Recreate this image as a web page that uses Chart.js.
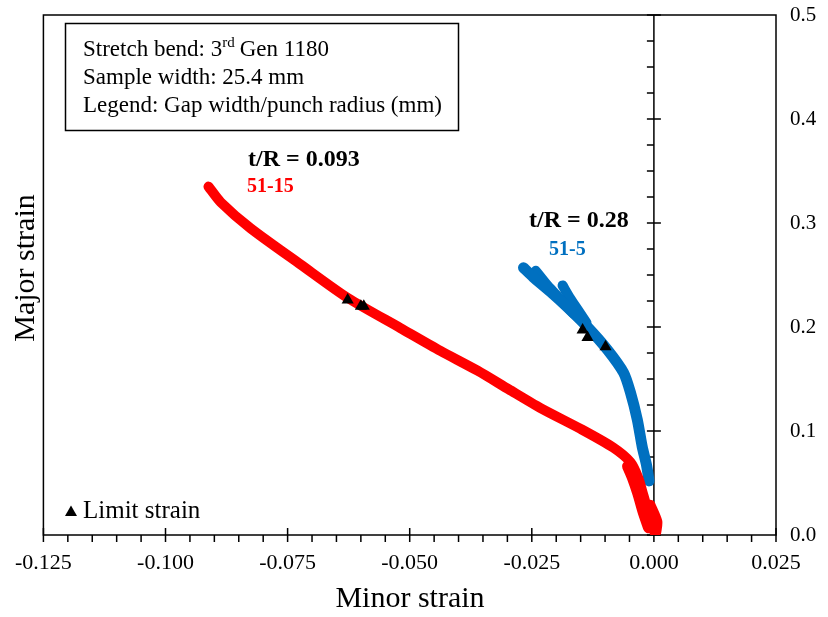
<!DOCTYPE html>
<html>
<head>
<meta charset="utf-8">
<script src="https://cdn.jsdelivr.net/npm/chart.js@4.4.1/dist/chart.umd.min.js"></script>
<style>
  html, body { margin: 0; padding: 0; background: #fff; }
  canvas { display: block; }
</style>
</head>
<body>
<canvas id="flc" width="828" height="617"></canvas>
<script>
// axis ranges and tick steps
const xRange = [-0.125, 0.025];
const yRange = [0, 0.5];
const xStep = 0.025, xMinor = 0.005;
const yStep = 0.1, yMinor = 0.025;
const yTickLabels = ['0.0', '0.1', '0.2', '0.3', '0.4', '0.5'];

// 51-15 (t/R = 0.093), minor / major strain
const redMinor = [-0.0912, -0.0887, -0.0826, -0.0723, -0.0627, -0.0519, -0.0437, -0.0361, -0.0297, -0.0232, -0.0150, -0.0083, -0.0048, -0.0032, -0.0022, -0.0013, -0.0005, 0.0001];
const redMajor = [0.335, 0.320, 0.295, 0.260, 0.228, 0.199, 0.177, 0.158, 0.140, 0.122, 0.102, 0.084, 0.070, 0.055, 0.039, 0.024, 0.010, 0.003];
// scatter spreading near the origin
const redSpreadMinor = [-0.0054, -0.0044, -0.0033, -0.0022, -0.0011];
const redSpreadMajor = [0.066, 0.055, 0.040, 0.022, 0.007];
const redTipMinor = [-0.0007, 0.0007, 0.0005];
const redTipMajor = [0.029, 0.013, 0.003];

// 51-5 (t/R = 0.28)
const blueMinor = [-0.0267, -0.0247, -0.0212, -0.0177, -0.0136, -0.0095, -0.0062, -0.0048, -0.0034, -0.0024, -0.0015, -0.0010];
const blueMajor = [0.257, 0.248, 0.234, 0.219, 0.200, 0.178, 0.156, 0.137, 0.111, 0.085, 0.067, 0.052];
const blueBranchAMinor = [-0.0242, -0.0218, -0.0190, -0.0165];
const blueBranchAMajor = [0.254, 0.240, 0.226, 0.213];
const blueBranchBMinor = [-0.0187, -0.0172, -0.0155, -0.0138];
const blueBranchBMajor = [0.240, 0.228, 0.216, 0.204];

// limit strains
const limitMinor = [-0.0627, -0.0600, -0.0594, -0.0146, -0.0136, -0.0099];
const limitMajor = [0.226, 0.220, 0.220, 0.197, 0.190, 0.181];

const RED = '#ff0000';
const BLUE = '#0070c0';
const SERIF = '"Liberation Serif", "Times New Roman", serif';

function pts(xs, ys) {
  return xs.map((x, i) => ({ x: x, y: ys[i] }));
}

function curve(xs, ys, color, width, order) {
  return {
    data: pts(xs, ys),
    showLine: true,
    borderColor: color,
    backgroundColor: color,
    borderWidth: width,
    borderCapStyle: 'round',
    borderJoinStyle: 'round',
    pointRadius: 0,
    tension: 0.25,
    order: order
  };
}

const blueSets = [
  curve(blueMinor, blueMajor, BLUE, 11, 3),
  curve(blueBranchAMinor, blueBranchAMajor, BLUE, 10, 3),
  curve(blueBranchBMinor, blueBranchBMajor, BLUE, 10, 3)
];

const redSets = [
  curve(redMinor, redMajor, RED, 10, 2),
  curve(redSpreadMinor, redSpreadMajor, RED, 11, 2),
  curve(redTipMinor, redTipMajor, RED, 10, 2)
];

const limitSet = {
  data: pts(limitMinor, limitMajor),
  showLine: false,
  pointStyle: 'triangle',
  pointRadius: 7,
  pointBackgroundColor: '#000',
  pointBorderWidth: 0,
  order: 0
};

function fmt(v, d) {
  return (Math.abs(v) < 1e-9 ? 0 : v).toFixed(d);
}

// frame, zero line and tick marks
const framePlugin = {
  id: 'frame',
  beforeDatasetsDraw(chart) {
    const ctx = chart.ctx;
    const a = chart.chartArea;
    const sx = chart.scales.x, sy = chart.scales.y;
    ctx.save();
    ctx.strokeStyle = '#000';
    ctx.lineWidth = 1.5;
    ctx.strokeRect(a.left, a.top, a.right - a.left, a.bottom - a.top);

    const x0 = sx.getPixelForValue(0);
    ctx.beginPath();
    ctx.moveTo(x0, a.top);
    ctx.lineTo(x0, a.bottom);

    // x ticks
    const nx = Math.round((xRange[1] - xRange[0]) / xMinor);
    for (let i = 0; i <= nx; i++) {
      const v = xRange[0] + i * xMinor;
      const px = sx.getPixelForValue(v);
      const major = i % Math.round(xStep / xMinor) === 0;
      ctx.moveTo(px, major ? a.bottom - 7 : a.bottom);
      ctx.lineTo(px, a.bottom + 7);
    }
    // y ticks on the zero line
    const ny = Math.round((yRange[1] - yRange[0]) / yMinor);
    for (let i = 0; i <= ny; i++) {
      const v = yRange[0] + i * yMinor;
      const py = sy.getPixelForValue(v);
      const major = i % 4 === 0;
      ctx.moveTo(x0 - 7, py);
      ctx.lineTo(major ? x0 + 7 : x0, py);
    }
    ctx.stroke();

    // y labels sit outside the right frame
    ctx.fillStyle = '#000';
    ctx.font = '21px ' + SERIF;
    ctx.textAlign = 'left';
    ctx.textBaseline = 'middle';
    yTickLabels.forEach((t, i) => {
      ctx.fillText(t, a.right + 14, sy.getPixelForValue(yRange[0] + i * yStep));
    });
    ctx.restore();
  },
  afterDraw(chart) {
    const ctx = chart.ctx;
    ctx.save();
    ctx.fillStyle = '#000';
    ctx.textBaseline = 'alphabetic';

    // axis titles
    ctx.font = '30px ' + SERIF;
    ctx.textAlign = 'center';
    ctx.fillText('Minor strain', 410, 607);
    ctx.save();
    ctx.translate(34, 268);
    ctx.rotate(-Math.PI / 2);
    ctx.fillText('Major strain', 0, 0);
    ctx.restore();

    // info box
    ctx.lineWidth = 1.5;
    ctx.strokeStyle = '#000';
    ctx.strokeRect(65.5, 23.5, 393, 107);
    ctx.textAlign = 'left';
    ctx.font = '23px ' + SERIF;
    let x = 83;
    const s1 = 'Stretch bend: 3';
    ctx.fillText(s1, x, 56);
    x += ctx.measureText(s1).width;
    ctx.font = '15px ' + SERIF;
    ctx.fillText('rd', x, 47);
    x += ctx.measureText('rd').width + 5;
    ctx.font = '23px ' + SERIF;
    ctx.fillText('Gen 1180', x, 56);
    ctx.fillText('Sample width: 25.4 mm', 83, 84);
    ctx.fillText('Legend: Gap width/punch radius (mm)', 83, 112);

    // curve labels
    ctx.font = 'bold 24px ' + SERIF;
    ctx.fillText('t/R = 0.093', 248, 166);
    ctx.fillText('t/R = 0.28', 529, 227);
    ctx.font = 'bold 20px ' + SERIF;
    ctx.fillStyle = RED;
    ctx.fillText('51-15', 247, 192);
    ctx.fillStyle = BLUE;
    ctx.fillText('51-5', 549, 255);

    // limit strain key
    ctx.fillStyle = '#000';
    ctx.beginPath();
    ctx.moveTo(71, 505.5);
    ctx.lineTo(77, 516);
    ctx.lineTo(65, 516);
    ctx.closePath();
    ctx.fill();
    ctx.font = '25px ' + SERIF;
    ctx.fillText('Limit strain', 83, 518);
    ctx.restore();
  }
};

new Chart(document.getElementById('flc'), {
  type: 'scatter',
  data: { datasets: [limitSet].concat(redSets, blueSets) },
  options: {
    responsive: false,
    animation: false,
    devicePixelRatio: 1,
    layout: { padding: { left: 42, top: 15, right: 0, bottom: 0 } },
    plugins: { legend: { display: false }, tooltip: { enabled: false } },
    scales: {
      x: {
        type: 'linear',
        min: xRange[0],
        max: xRange[1],
        afterFit(s) { s.height = 82; },
        grid: { display: false, drawTicks: false },
        border: { display: false },
        ticks: {
          stepSize: xStep,
          padding: 15,
          color: '#000',
          font: { family: SERIF, size: 22 },
          maxRotation: 0,
          callback: v => fmt(v, 3)
        }
      },
      y: {
        type: 'linear',
        position: 'right',
        min: yRange[0],
        max: yRange[1],
        afterFit(s) { s.width = 52; },
        grid: { display: false, drawTicks: false },
        border: { display: false },
        ticks: { display: false, stepSize: yStep }
      }
    }
  },
  plugins: [framePlugin]
});
</script>
</body>
</html>
